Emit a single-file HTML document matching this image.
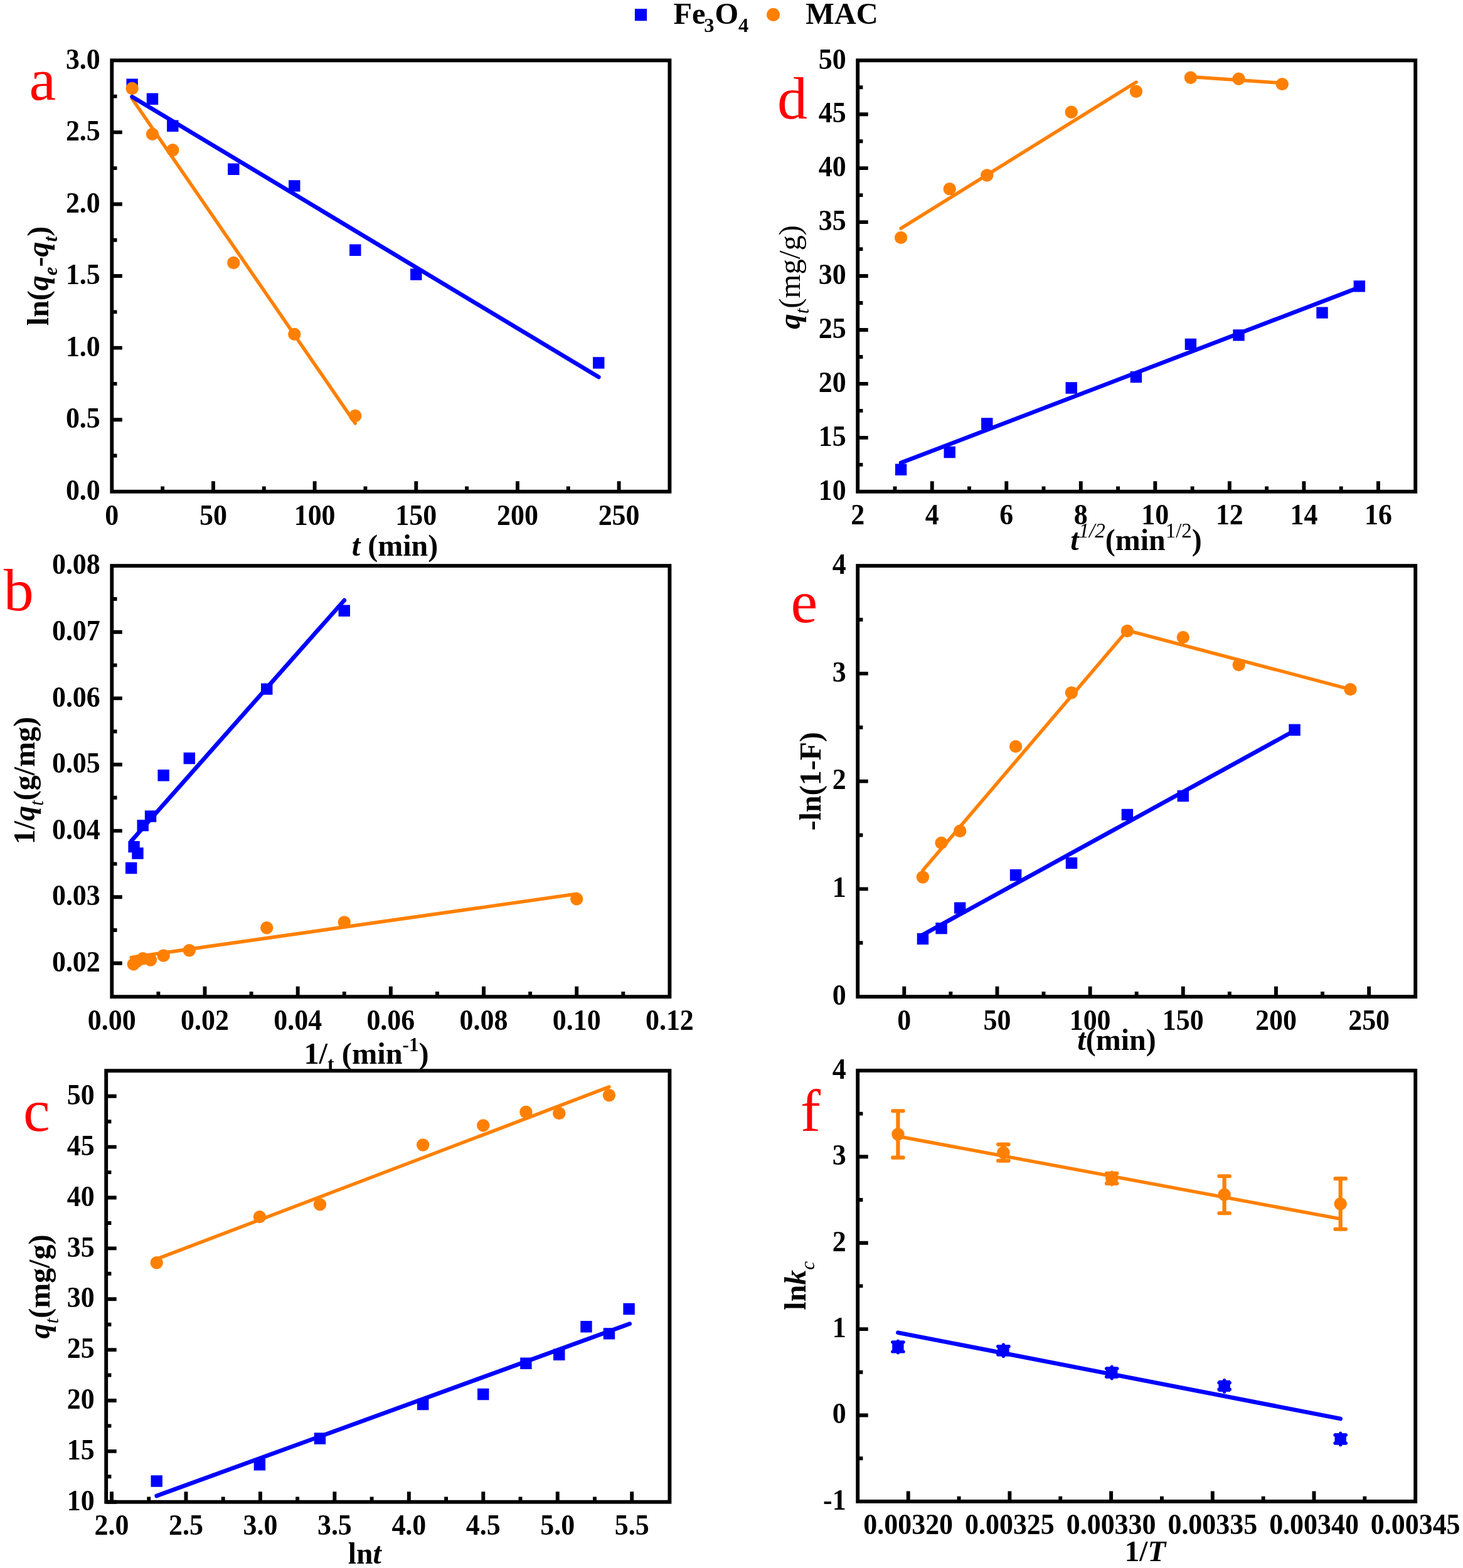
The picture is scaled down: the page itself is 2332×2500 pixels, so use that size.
<!DOCTYPE html>
<html lang="en"><head><meta charset="utf-8"><title>Adsorption kinetics figure</title>
<style>html,body{margin:0;padding:0;background:#fff}svg{display:block}text{font-family:"Liberation Serif","Times New Roman",serif;fill:#000}.tk text{font-weight:bold}.tt{font-weight:bold}.bi{font-style:italic;font-weight:bold}.ri{font-style:italic;font-weight:normal}.r{font-style:normal;font-weight:normal}.b{font-style:normal;font-weight:bold}.pl{font-size:96px;fill:#ff0000;font-weight:normal}</style></head><body>
<svg width="2332" height="2500" viewBox="0 0 2332 2500">
<rect width="2332" height="2500" fill="#fff"/>
<rect x="1011.9" y="14" width="19.2" height="19.2" fill="#0000ff"/>
<text class="tt" font-size="48.4"><tspan x="1073.4" y="37.9">Fe</tspan><tspan x="1122.3" y="50.5" font-size="32.5">3</tspan><tspan x="1139.6" y="37.9">O</tspan><tspan x="1176.9" y="50.5" font-size="32.5">4</tspan></text>
<circle cx="1232.6" cy="23.4" r="10.6" fill="#ff8000"/>
<text x="1284.2" y="37.9" class="tt" font-size="48.4">MAC</text>
<polyline points="210.63,157.49 566.27,674.95" fill="none" stroke="#ff8000" stroke-width="5.5" stroke-linecap="round" stroke-linejoin="round"/>
<polyline points="210.63,154.28 954.24,601.15" fill="none" stroke="#0000ff" stroke-width="6.7" stroke-linecap="round" stroke-linejoin="round"/>
<path d="M201.43 125.6h18.4v18.4h-18.4zM233.76 148.52h18.4v18.4h-18.4zM266.09 191.6h18.4v18.4h-18.4zM363.09 260.58h18.4v18.4h-18.4zM460.08 287.16h18.4v18.4h-18.4zM557.07 389.6h18.4v18.4h-18.4zM654.06 428.33h18.4v18.4h-18.4zM945.04 569.27h18.4v18.4h-18.4z" fill="#0000ff"/>
<circle cx="210.63" cy="140.99" r="10.2" fill="#ff8000"/>
<circle cx="242.96" cy="213.86" r="10.2" fill="#ff8000"/>
<circle cx="275.29" cy="239.3" r="10.2" fill="#ff8000"/>
<circle cx="372.29" cy="418.97" r="10.2" fill="#ff8000"/>
<circle cx="469.28" cy="532.86" r="10.2" fill="#ff8000"/>
<circle cx="566.27" cy="663.03" r="10.2" fill="#ff8000"/>
<rect x="178.3" y="96.3" width="889.1" height="687.5" fill="none" stroke="#000" stroke-width="5.9"/>
<path d="M339.95 783.8 v-16.5 M501.61 783.8 v-16.5 M663.26 783.8 v-16.5 M824.92 783.8 v-16.5 M986.57 783.8 v-16.5 M259.13 783.8 v-8.2 M420.78 783.8 v-8.2 M582.44 783.8 v-8.2 M744.09 783.8 v-8.2 M905.75 783.8 v-8.2" stroke="#000" stroke-width="5.9" fill="none"/>
<g class="tk" text-anchor="middle" font-size="45.4">
<text transform="translate(178.3 836.6) scale(0.968 1)">0</text>
<text transform="translate(339.95 836.6) scale(0.968 1)">50</text>
<text transform="translate(501.61 836.6) scale(0.968 1)">100</text>
<text transform="translate(663.26 836.6) scale(0.968 1)">150</text>
<text transform="translate(824.92 836.6) scale(0.968 1)">200</text>
<text transform="translate(986.57 836.6) scale(0.968 1)">250</text>
</g>
<path d="M178.3 669.22 h16.5 M178.3 554.63 h16.5 M178.3 440.05 h16.5 M178.3 325.47 h16.5 M178.3 210.88 h16.5 M178.3 726.51 h8.2 M178.3 611.92 h8.2 M178.3 497.34 h8.2 M178.3 382.76 h8.2 M178.3 268.17 h8.2 M178.3 153.59 h8.2" stroke="#000" stroke-width="5.9" fill="none"/>
<g class="tk" text-anchor="end" font-size="45.4">
<text transform="translate(159.8 797) scale(0.968 1)">0.0</text>
<text transform="translate(159.8 682.42) scale(0.968 1)">0.5</text>
<text transform="translate(159.8 567.83) scale(0.968 1)">1.0</text>
<text transform="translate(159.8 453.25) scale(0.968 1)">1.5</text>
<text transform="translate(159.8 338.67) scale(0.968 1)">2.0</text>
<text transform="translate(159.8 224.08) scale(0.968 1)">2.5</text>
<text transform="translate(159.8 109.5) scale(0.968 1)">3.0</text>
</g>
<text x="46.5" y="158.5" class="pl">a</text>
<text x="629.5" y="885.8" text-anchor="middle" class="tt" font-size="48"><tspan class="bi">t</tspan> (min)</text>
<text transform="translate(77.3 440) rotate(-90)" text-anchor="middle" class="tt" font-size="48">ln(<tspan class="bi">q</tspan><tspan class="bi" font-size="31" dy="14">e</tspan><tspan dy="-14" font-size="1">&#8203;</tspan>-<tspan class="bi">q</tspan><tspan class="bi" font-size="31" dy="14">t</tspan><tspan dy="-14" font-size="1">&#8203;</tspan>)</text>
<polyline points="209.17,1340.97 548.76,957.11" fill="none" stroke="#0000ff" stroke-width="6.7" stroke-linecap="round" stroke-linejoin="round"/>
<polyline points="209.17,1526.51 919.22,1425.24" fill="none" stroke="#ff8000" stroke-width="5.5" stroke-linecap="round" stroke-linejoin="round"/>
<path d="M199.97 1374.85h18.4v18.4h-18.4zM204.38 1340.96h18.4v18.4h-18.4zM210.26 1351.3h18.4v18.4h-18.4zM218.49 1306.95h18.4v18.4h-18.4zM230.84 1292.27h18.4v18.4h-18.4zM251.42 1227.01h18.4v18.4h-18.4zM292.59 1199.77h18.4v18.4h-18.4zM416.07 1089.42h18.4v18.4h-18.4zM539.56 964.6h18.4v18.4h-18.4z" fill="#0000ff"/>
<circle cx="212.83" cy="1537.38" r="10.2" fill="#ff8000"/>
<circle cx="218.31" cy="1532.63" r="10.2" fill="#ff8000"/>
<circle cx="227.69" cy="1528.3" r="10.2" fill="#ff8000"/>
<circle cx="240.04" cy="1530.52" r="10.2" fill="#ff8000"/>
<circle cx="260.62" cy="1523.66" r="10.2" fill="#ff8000"/>
<circle cx="301.79" cy="1515.21" r="10.2" fill="#ff8000"/>
<circle cx="425.27" cy="1479.3" r="10.2" fill="#ff8000"/>
<circle cx="548.76" cy="1470.33" r="10.2" fill="#ff8000"/>
<circle cx="919.22" cy="1433.26" r="10.2" fill="#ff8000"/>
<rect x="178.3" y="902.1" width="889.1" height="687.1" fill="none" stroke="#000" stroke-width="5.9"/>
<path d="M326.48 1589.2 v-16.5 M474.67 1589.2 v-16.5 M622.85 1589.2 v-16.5 M771.03 1589.2 v-16.5 M919.22 1589.2 v-16.5 M252.39 1589.2 v-8.2 M400.58 1589.2 v-8.2 M548.76 1589.2 v-8.2 M696.94 1589.2 v-8.2 M845.12 1589.2 v-8.2 M993.31 1589.2 v-8.2" stroke="#000" stroke-width="5.9" fill="none"/>
<g class="tk" text-anchor="middle" font-size="45.4">
<text transform="translate(178.3 1642) scale(0.968 1)">0.00</text>
<text transform="translate(326.48 1642) scale(0.968 1)">0.02</text>
<text transform="translate(474.67 1642) scale(0.968 1)">0.04</text>
<text transform="translate(622.85 1642) scale(0.968 1)">0.06</text>
<text transform="translate(771.03 1642) scale(0.968 1)">0.08</text>
<text transform="translate(919.22 1642) scale(0.968 1)">0.10</text>
<text transform="translate(1067.4 1642) scale(0.968 1)">0.12</text>
</g>
<path d="M178.3 1535.8 h16.5 M178.3 1430.2 h16.5 M178.3 1324.6 h16.5 M178.3 1219 h16.5 M178.3 1113.4 h16.5 M178.3 1007.8 h16.5 M178.3 1483 h8.2 M178.3 1377.4 h8.2 M178.3 1271.8 h8.2 M178.3 1166.2 h8.2 M178.3 1060.6 h8.2 M178.3 955 h8.2" stroke="#000" stroke-width="5.9" fill="none"/>
<g class="tk" text-anchor="end" font-size="45.4">
<text transform="translate(159.8 1549) scale(0.968 1)">0.02</text>
<text transform="translate(159.8 1443.4) scale(0.968 1)">0.03</text>
<text transform="translate(159.8 1337.8) scale(0.968 1)">0.04</text>
<text transform="translate(159.8 1232.2) scale(0.968 1)">0.05</text>
<text transform="translate(159.8 1126.6) scale(0.968 1)">0.06</text>
<text transform="translate(159.8 1021) scale(0.968 1)">0.07</text>
<text transform="translate(159.8 915.4) scale(0.968 1)">0.08</text>
</g>
<text x="5.8" y="972.6" class="pl">b</text>
<text x="584" y="1696.3" text-anchor="middle" class="tt" font-size="48.4">1/<tspan class="b" font-size="32" dy="11">t</tspan><tspan dy="-11" font-size="1">&#8203;</tspan> (min<tspan class="b" font-size="31" dy="-20">-1</tspan><tspan dy="20" font-size="1">&#8203;</tspan>)</text>
<text transform="translate(55.1 1244.5) rotate(-90)" text-anchor="middle" class="tt" font-size="48">1/<tspan class="bi">q</tspan><tspan class="ri" font-size="31" dy="14">t</tspan><tspan dy="-14" font-size="1">&#8203;</tspan>(g/mg)</text>
<polyline points="249.69,2385 1003.65,2110.71" fill="none" stroke="#0000ff" stroke-width="6.7" stroke-linecap="round" stroke-linejoin="round"/>
<polyline points="249.69,2007.37 970.98,1732.92" fill="none" stroke="#ff8000" stroke-width="5.5" stroke-linecap="round" stroke-linejoin="round"/>
<path d="M240.49 2352.35h18.4v18.4h-18.4zM404.7 2325.99h18.4v18.4h-18.4zM500.76 2284.26h18.4v18.4h-18.4zM664.98 2229.92h18.4v18.4h-18.4zM761.04 2213.75h18.4v18.4h-18.4zM829.2 2164.58h18.4v18.4h-18.4zM882.06 2150.51h18.4v18.4h-18.4zM925.26 2106.04h18.4v18.4h-18.4zM961.78 2117.2h18.4v18.4h-18.4zM993.41 2077.74h18.4v18.4h-18.4z" fill="#0000ff"/>
<circle cx="249.69" cy="2013.19" r="10.2" fill="#ff8000"/>
<circle cx="413.9" cy="1940.09" r="10.2" fill="#ff8000"/>
<circle cx="509.96" cy="1920.36" r="10.2" fill="#ff8000"/>
<circle cx="674.18" cy="1825.43" r="10.2" fill="#ff8000"/>
<circle cx="770.24" cy="1794.38" r="10.2" fill="#ff8000"/>
<circle cx="838.4" cy="1773.03" r="10.2" fill="#ff8000"/>
<circle cx="891.26" cy="1774.97" r="10.2" fill="#ff8000"/>
<circle cx="970.98" cy="1746.18" r="10.2" fill="#ff8000"/>
<rect x="169.2" y="1707.2" width="898.2" height="687.5" fill="none" stroke="#000" stroke-width="5.9"/>
<path d="M178 2394.7 v-16.5 M296.46 2394.7 v-16.5 M414.91 2394.7 v-16.5 M533.37 2394.7 v-16.5 M651.83 2394.7 v-16.5 M770.29 2394.7 v-16.5 M888.74 2394.7 v-16.5 M1007.2 2394.7 v-16.5 M237.23 2394.7 v-8.2 M355.69 2394.7 v-8.2 M474.14 2394.7 v-8.2 M592.6 2394.7 v-8.2 M711.06 2394.7 v-8.2 M829.51 2394.7 v-8.2 M947.97 2394.7 v-8.2" stroke="#000" stroke-width="5.9" fill="none"/>
<g class="tk" text-anchor="middle" font-size="45.4">
<text transform="translate(178 2446.5) scale(0.968 1)">2.0</text>
<text transform="translate(296.46 2446.5) scale(0.968 1)">2.5</text>
<text transform="translate(414.91 2446.5) scale(0.968 1)">3.0</text>
<text transform="translate(533.37 2446.5) scale(0.968 1)">3.5</text>
<text transform="translate(651.83 2446.5) scale(0.968 1)">4.0</text>
<text transform="translate(770.29 2446.5) scale(0.968 1)">4.5</text>
<text transform="translate(888.74 2446.5) scale(0.968 1)">5.0</text>
<text transform="translate(1007.2 2446.5) scale(0.968 1)">5.5</text>
</g>
<path d="M169.2 2394.7 h16.5 M169.2 2313.84 h16.5 M169.2 2232.97 h16.5 M169.2 2152.11 h16.5 M169.2 2071.25 h16.5 M169.2 1990.39 h16.5 M169.2 1909.52 h16.5 M169.2 1828.66 h16.5 M169.2 1747.8 h16.5 M169.2 2354.27 h8.2 M169.2 2273.41 h8.2 M169.2 2192.54 h8.2 M169.2 2111.68 h8.2 M169.2 2030.82 h8.2 M169.2 1949.96 h8.2 M169.2 1869.09 h8.2 M169.2 1788.23 h8.2" stroke="#000" stroke-width="5.9" fill="none"/>
<g class="tk" text-anchor="end" font-size="45.4">
<text transform="translate(150.7 2407.9) scale(0.968 1)">10</text>
<text transform="translate(150.7 2327.04) scale(0.968 1)">15</text>
<text transform="translate(150.7 2246.17) scale(0.968 1)">20</text>
<text transform="translate(150.7 2165.31) scale(0.968 1)">25</text>
<text transform="translate(150.7 2084.45) scale(0.968 1)">30</text>
<text transform="translate(150.7 2003.59) scale(0.968 1)">35</text>
<text transform="translate(150.7 1922.72) scale(0.968 1)">40</text>
<text transform="translate(150.7 1841.86) scale(0.968 1)">45</text>
<text transform="translate(150.7 1761) scale(0.968 1)">50</text>
</g>
<text x="37" y="1803.4" class="pl">c</text>
<text x="581.2" y="2493.3" text-anchor="middle" class="tt" font-size="47.5">ln<tspan class="bi">t</tspan></text>
<text transform="translate(78.5 2051.3) rotate(-90)" text-anchor="middle" class="tt" font-size="48"><tspan class="bi">q</tspan><tspan class="ri" font-size="31" dy="14">t</tspan><tspan dy="-14" font-size="1">&#8203;</tspan>(mg/g)</text>
<polyline points="1436.08,737.91 2166.82,458.1" fill="none" stroke="#0000ff" stroke-width="6.7" stroke-linecap="round" stroke-linejoin="round"/>
<polyline points="1436.08,364.08 1810.92,131.02" fill="none" stroke="#ff8000" stroke-width="5.5" stroke-linecap="round" stroke-linejoin="round"/>
<polyline points="1897.9,122.6 2043.81,132.39" fill="none" stroke="#ff8000" stroke-width="5.5" stroke-linecap="round" stroke-linejoin="round"/>
<path d="M1426.88 739.54h18.4v18.4h-18.4zM1504.52 711.87h18.4v18.4h-18.4zM1564.08 666.32h18.4v18.4h-18.4zM1698.54 609.26h18.4v18.4h-18.4zM1801.72 591.9h18.4v18.4h-18.4zM1888.7 539.65h18.4v18.4h-18.4zM1965.33 525.21h18.4v18.4h-18.4zM2098.32 489.46h18.4v18.4h-18.4zM2157.62 447.18h18.4v18.4h-18.4z" fill="#0000ff"/>
<circle cx="1436.08" cy="378.86" r="10.2" fill="#ff8000"/>
<circle cx="1513.72" cy="301.17" r="10.2" fill="#ff8000"/>
<circle cx="1573.28" cy="279.52" r="10.2" fill="#ff8000"/>
<circle cx="1707.74" cy="178.8" r="10.2" fill="#ff8000"/>
<circle cx="1810.92" cy="145.8" r="10.2" fill="#ff8000"/>
<circle cx="1897.9" cy="123.8" r="10.2" fill="#ff8000"/>
<circle cx="1974.53" cy="125.69" r="10.2" fill="#ff8000"/>
<circle cx="2043.81" cy="134.11" r="10.2" fill="#ff8000"/>
<rect x="1367.2" y="96.3" width="889" height="687.5" fill="none" stroke="#000" stroke-width="5.9"/>
<path d="M1485.73 783.8 v-16.5 M1604.27 783.8 v-16.5 M1722.8 783.8 v-16.5 M1841.33 783.8 v-16.5 M1959.87 783.8 v-16.5 M2078.4 783.8 v-16.5 M2196.93 783.8 v-16.5 M1426.47 783.8 v-8.2 M1545 783.8 v-8.2 M1663.53 783.8 v-8.2 M1782.07 783.8 v-8.2 M1900.6 783.8 v-8.2 M2019.13 783.8 v-8.2 M2137.67 783.8 v-8.2" stroke="#000" stroke-width="5.9" fill="none"/>
<g class="tk" text-anchor="middle" font-size="45.4">
<text transform="translate(1367.2 836) scale(0.968 1)">2</text>
<text transform="translate(1485.73 836) scale(0.968 1)">4</text>
<text transform="translate(1604.27 836) scale(0.968 1)">6</text>
<text transform="translate(1722.8 836) scale(0.968 1)">8</text>
<text transform="translate(1841.33 836) scale(0.968 1)">10</text>
<text transform="translate(1959.87 836) scale(0.968 1)">12</text>
<text transform="translate(2078.4 836) scale(0.968 1)">14</text>
<text transform="translate(2196.93 836) scale(0.968 1)">16</text>
</g>
<path d="M1367.2 697.86 h16.5 M1367.2 611.92 h16.5 M1367.2 525.99 h16.5 M1367.2 440.05 h16.5 M1367.2 354.11 h16.5 M1367.2 268.17 h16.5 M1367.2 182.24 h16.5 M1367.2 740.83 h8.2 M1367.2 654.89 h8.2 M1367.2 568.96 h8.2 M1367.2 483.02 h8.2 M1367.2 397.08 h8.2 M1367.2 311.14 h8.2 M1367.2 225.21 h8.2 M1367.2 139.27 h8.2" stroke="#000" stroke-width="5.9" fill="none"/>
<g class="tk" text-anchor="end" font-size="45.4">
<text transform="translate(1348.7 797) scale(0.968 1)">10</text>
<text transform="translate(1348.7 711.06) scale(0.968 1)">15</text>
<text transform="translate(1348.7 625.12) scale(0.968 1)">20</text>
<text transform="translate(1348.7 539.19) scale(0.968 1)">25</text>
<text transform="translate(1348.7 453.25) scale(0.968 1)">30</text>
<text transform="translate(1348.7 367.31) scale(0.968 1)">35</text>
<text transform="translate(1348.7 281.37) scale(0.968 1)">40</text>
<text transform="translate(1348.7 195.44) scale(0.968 1)">45</text>
<text transform="translate(1348.7 109.5) scale(0.968 1)">50</text>
</g>
<text x="1239" y="189.4" class="pl">d</text>
<text x="1811" y="877.4" text-anchor="middle" class="tt" font-size="48"><tspan class="bi">t</tspan><tspan class="ri" font-size="33" dy="-20">1/2</tspan><tspan dy="20" font-size="1">&#8203;</tspan>(min<tspan class="r" font-size="33" dy="-20">1/2</tspan><tspan dy="20" font-size="1">&#8203;</tspan>)</text>
<text transform="translate(1275.1 441.8) rotate(-90)" text-anchor="middle" class="tt" font-size="48.8"><tspan class="bi">q</tspan><tspan class="ri" font-size="31" dy="14">t</tspan><tspan dy="-14" font-size="1">&#8203;</tspan><tspan class="r">(mg/g)</tspan></text>
<polyline points="1470.92,1490.39 2063.58,1164.9" fill="none" stroke="#0000ff" stroke-width="6.7" stroke-linecap="round" stroke-linejoin="round"/>
<polyline points="1470.92,1387.84 1796.88,1005.16 2152.48,1099.11" fill="none" stroke="#ff8000" stroke-width="5.5" stroke-linecap="round" stroke-linejoin="round"/>
<path d="M1461.72 1487.71h18.4v18.4h-18.4zM1491.35 1470.88h18.4v18.4h-18.4zM1520.98 1438.42h18.4v18.4h-18.4zM1609.88 1386.03h18.4v18.4h-18.4zM1698.78 1366.96h18.4v18.4h-18.4zM1787.68 1289.67h18.4v18.4h-18.4zM1876.58 1259.96h18.4v18.4h-18.4zM2054.38 1154.49h18.4v18.4h-18.4z" fill="#0000ff"/>
<circle cx="1470.92" cy="1398.49" r="10.2" fill="#ff8000"/>
<circle cx="1500.55" cy="1343.87" r="10.2" fill="#ff8000"/>
<circle cx="1530.18" cy="1324.98" r="10.2" fill="#ff8000"/>
<circle cx="1619.08" cy="1190.15" r="10.2" fill="#ff8000"/>
<circle cx="1707.98" cy="1104.44" r="10.2" fill="#ff8000"/>
<circle cx="1796.88" cy="1006.02" r="10.2" fill="#ff8000"/>
<circle cx="1885.78" cy="1016.15" r="10.2" fill="#ff8000"/>
<circle cx="1974.68" cy="1060.12" r="10.2" fill="#ff8000"/>
<circle cx="2152.48" cy="1099.11" r="10.2" fill="#ff8000"/>
<rect x="1367.2" y="902.1" width="889" height="687.05" fill="none" stroke="#000" stroke-width="5.9"/>
<path d="M1441.28 1589.15 v-16.5 M1589.45 1589.15 v-16.5 M1737.62 1589.15 v-16.5 M1885.78 1589.15 v-16.5 M2033.95 1589.15 v-16.5 M2182.12 1589.15 v-16.5 M1515.37 1589.15 v-8.2 M1663.53 1589.15 v-8.2 M1811.7 1589.15 v-8.2 M1959.87 1589.15 v-8.2 M2108.03 1589.15 v-8.2" stroke="#000" stroke-width="5.9" fill="none"/>
<g class="tk" text-anchor="middle" font-size="45.4">
<text transform="translate(1441.28 1641.95) scale(0.968 1)">0</text>
<text transform="translate(1589.45 1641.95) scale(0.968 1)">50</text>
<text transform="translate(1737.62 1641.95) scale(0.968 1)">100</text>
<text transform="translate(1885.78 1641.95) scale(0.968 1)">150</text>
<text transform="translate(2033.95 1641.95) scale(0.968 1)">200</text>
<text transform="translate(2182.12 1641.95) scale(0.968 1)">250</text>
</g>
<path d="M1367.2 1417.39 h16.5 M1367.2 1245.62 h16.5 M1367.2 1073.86 h16.5 M1367.2 1503.27 h8.2 M1367.2 1331.51 h8.2 M1367.2 1159.74 h8.2 M1367.2 987.98 h8.2" stroke="#000" stroke-width="5.9" fill="none"/>
<g class="tk" text-anchor="end" font-size="45.4">
<text transform="translate(1348.7 1601.95) scale(0.968 1)">0</text>
<text transform="translate(1348.7 1430.19) scale(0.968 1)">1</text>
<text transform="translate(1348.7 1258.42) scale(0.968 1)">2</text>
<text transform="translate(1348.7 1086.66) scale(0.968 1)">3</text>
<text transform="translate(1348.7 914.9) scale(0.968 1)">4</text>
</g>
<text x="1260.5" y="991.7" class="pl">e</text>
<text x="1780" y="1674.2" text-anchor="middle" class="tt" font-size="48"><tspan class="bi">t</tspan>(min)</text>
<text transform="translate(1307.5 1245.6) rotate(-90)" text-anchor="middle" class="tt" font-size="48">-ln(1-F)</text>
<polyline points="1431.4,2124.73 2136.7,2262" fill="none" stroke="#0000ff" stroke-width="6.7" stroke-linecap="round" stroke-linejoin="round"/>
<polyline points="1431.4,1811.74 2136.7,1943.37" fill="none" stroke="#ff8000" stroke-width="5.5" stroke-linecap="round" stroke-linejoin="round"/>
<path d="M1431.4 1771.24V1845.64 M1423.17 1771.24h16.45 M1423.17 1845.64h16.45 M1599.4 1824.57V1850.57 M1591.18 1824.57h16.45 M1591.18 1850.57h16.45 M1772.2 1869.49V1888.09 M1763.98 1870.79h16.45 M1763.98 1886.79h16.45 M1951.6 1875.26V1934.26 M1943.38 1875.26h16.45 M1943.38 1934.26h16.45 M2136.7 1879.16V1959.76 M2128.48 1879.16h16.45 M2128.48 1959.76h16.45" fill="none" stroke="#ff8000" stroke-width="6.2" stroke-linecap="round"/>
<path d="M1431.4 2138.1V2156.7 M1422.67 2139.8h17.45 M1422.67 2155h17.45 M1599.4 2143.88V2162.48 M1590.68 2146.68h17.45 M1590.68 2159.68h17.45 M1772.2 2179.19V2197.79 M1763.48 2181.99h17.45 M1763.48 2194.99h17.45 M1951.6 2200.62V2219.22 M1942.88 2204.62h17.45 M1942.88 2215.22h17.45 M2136.7 2285.12V2303.72 M2127.98 2287.92h17.45 M2127.98 2300.92h17.45" fill="none" stroke="#0000ff" stroke-width="5.2" stroke-linecap="round"/>
<path d="M1422.2 2138.2h18.4v18.4h-18.4zM1590.2 2143.98h18.4v18.4h-18.4zM1763 2179.29h18.4v18.4h-18.4zM1942.4 2200.72h18.4v18.4h-18.4zM2127.5 2285.22h18.4v18.4h-18.4z" fill="#0000ff"/>
<circle cx="1431.4" cy="1808.44" r="10.2" fill="#ff8000"/>
<circle cx="1599.4" cy="1837.57" r="10.2" fill="#ff8000"/>
<circle cx="1772.2" cy="1878.79" r="10.2" fill="#ff8000"/>
<circle cx="1951.6" cy="1904.76" r="10.2" fill="#ff8000"/>
<circle cx="2136.7" cy="1919.46" r="10.2" fill="#ff8000"/>
<rect x="1367.2" y="1706.9" width="889" height="687" fill="none" stroke="#000" stroke-width="5.9"/>
<path d="M1447.7 2393.9 v-16.5 M1609.4 2393.9 v-16.5 M1771.1 2393.9 v-16.5 M1932.8 2393.9 v-16.5 M2094.5 2393.9 v-16.5 M1528.55 2393.9 v-8.2 M1690.25 2393.9 v-8.2 M1851.95 2393.9 v-8.2 M2013.65 2393.9 v-8.2 M2175.35 2393.9 v-8.2" stroke="#000" stroke-width="5.9" fill="none"/>
<g class="tk" text-anchor="middle" font-size="45.4">
<text transform="translate(1447.7 2445.7) scale(0.968 1)">0.00320</text>
<text transform="translate(1609.4 2445.7) scale(0.968 1)">0.00325</text>
<text transform="translate(1771.1 2445.7) scale(0.968 1)">0.00330</text>
<text transform="translate(1932.8 2445.7) scale(0.968 1)">0.00335</text>
<text transform="translate(2094.5 2445.7) scale(0.968 1)">0.00340</text>
<text transform="translate(2256.2 2445.7) scale(0.968 1)">0.00345</text>
</g>
<path d="M1367.2 2256.5 h16.5 M1367.2 2119.1 h16.5 M1367.2 1981.7 h16.5 M1367.2 1844.3 h16.5 M1367.2 2325.2 h8.2 M1367.2 2187.8 h8.2 M1367.2 2050.4 h8.2 M1367.2 1913 h8.2 M1367.2 1775.6 h8.2" stroke="#000" stroke-width="5.9" fill="none"/>
<g class="tk" text-anchor="end" font-size="45.4">
<text transform="translate(1348.7 2406.7) scale(0.968 1)">-1</text>
<text transform="translate(1348.7 2269.3) scale(0.968 1)">0</text>
<text transform="translate(1348.7 2131.9) scale(0.968 1)">1</text>
<text transform="translate(1348.7 1994.5) scale(0.968 1)">2</text>
<text transform="translate(1348.7 1857.1) scale(0.968 1)">3</text>
<text transform="translate(1348.7 1719.7) scale(0.968 1)">4</text>
</g>
<text x="1276" y="1803.4" class="pl">f</text>
<text x="1825.5" y="2488.8" text-anchor="middle" class="tt" font-size="47">1/<tspan class="bi">T</tspan></text>
<text transform="translate(1284.1 2049.8) rotate(-90)" text-anchor="middle" class="tt" font-size="48">ln<tspan class="bi">k</tspan><tspan class="ri" font-size="31" dy="14">c</tspan><tspan dy="-14" font-size="1">&#8203;</tspan></text>
</svg></body></html>
